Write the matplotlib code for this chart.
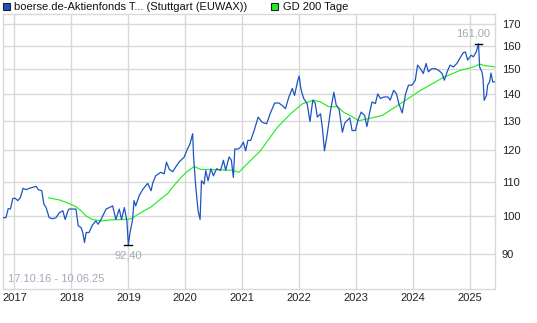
import matplotlib
matplotlib.use("Agg")
import matplotlib.pyplot as plt
from matplotlib.patches import Rectangle
import numpy as np

plt.rcParams['font.family'] = ['Liberation Sans', 'DejaVu Sans']

# Price series (decimal year, value)
price_t = [2016.79, 2016.85, 2016.89, 2016.93, 2016.97, 2017.01, 2017.06, 2017.105, 2017.15, 2017.205,
           2017.26, 2017.32, 2017.38, 2017.42, 2017.48, 2017.515, 2017.556, 2017.61, 2017.67, 2017.73,
           2017.79, 2017.85, 2017.89, 2017.94, 2017.96, 2018.08, 2018.12, 2018.17, 2018.20, 2018.23,
           2018.26, 2018.31, 2018.37, 2018.43, 2018.47, 2018.52, 2018.61, 2018.665, 2018.725, 2018.78,
           2018.84, 2018.88, 2018.93, 2018.975, 2019.0, 2019.03, 2019.075, 2019.10, 2019.13, 2019.19,
           2019.25, 2019.34, 2019.40, 2019.43, 2019.48, 2019.57, 2019.63, 2019.67, 2019.72, 2019.78,
           2019.83, 2019.89, 2019.95, 2019.98, 2020.04, 2020.08, 2020.13, 2020.145, 2020.185, 2020.225,
           2020.26, 2020.285, 2020.33, 2020.36, 2020.40, 2020.45, 2020.495, 2020.55, 2020.62, 2020.67,
           2020.71, 2020.77, 2020.81, 2020.845, 2020.87, 2020.93, 2020.97, 2021.02, 2021.06, 2021.10,
           2021.15, 2021.21, 2021.28, 2021.35, 2021.43, 2021.49, 2021.57, 2021.645, 2021.70, 2021.76,
           2021.82, 2021.88, 2021.92, 2021.97, 2022.0, 2022.03, 2022.055, 2022.08, 2022.10, 2022.14,
           2022.19, 2022.24, 2022.28, 2022.32, 2022.375, 2022.41, 2022.42, 2022.445, 2022.49, 2022.55,
           2022.61, 2022.65, 2022.70, 2022.76, 2022.80, 2022.84, 2022.89, 2022.93, 2022.99, 2023.03,
           2023.09, 2023.15, 2023.19, 2023.24, 2023.28, 2023.34, 2023.38, 2023.43, 2023.49, 2023.56,
           2023.60, 2023.66, 2023.71, 2023.75, 2023.81, 2023.87, 2023.92, 2023.98, 2024.04, 2024.08,
           2024.13, 2024.18, 2024.23, 2024.27, 2024.33, 2024.39, 2024.45, 2024.51, 2024.55, 2024.60,
           2024.65, 2024.71, 2024.77, 2024.82, 2024.88, 2024.92, 2024.96, 2025.02, 2025.06, 2025.11,
           2025.15, 2025.17, 2025.21, 2025.23, 2025.25, 2025.29, 2025.31, 2025.345, 2025.37, 2025.40,
           2025.44]
price_v = [99.6, 99.6, 102.1, 102.0, 105.0, 105.1, 104.4, 105.3, 108.0, 107.6,
           108.0, 108.3, 108.6, 107.6, 107.3, 103.5, 102.4, 99.6, 99.3, 99.6,
           101.0, 101.5, 99.1, 101.5, 102.0, 102.0, 97.4, 96.9, 95.6, 93.0,
           95.6, 95.6, 97.6, 98.7, 97.8, 99.1, 102.0, 102.4, 102.9, 99.1,
           102.0, 99.1, 102.4, 98.7, 92.4, 95.6, 99.1, 104.4, 102.9, 105.8,
           107.6, 109.5, 107.3, 109.7, 111.8, 112.9, 112.4, 116.1, 113.8, 113.1,
           114.5, 116.1, 117.2, 117.7, 120.5, 121.9, 125.6, 118.2, 108.3, 101.5,
           99.1, 110.3, 109.3, 113.4, 110.3, 114.0, 111.8, 114.0, 113.5, 116.7,
           113.5, 117.8, 116.7, 111.3, 120.4, 120.4, 121.0, 122.7, 119.8, 123.3,
           123.3, 126.7, 131.5, 129.6, 129.1, 132.7, 136.7, 136.7, 135.8, 134.6,
           139.0, 142.3, 139.6, 144.9, 147.3, 142.3, 140.2, 138.4, 137.8, 136.5,
           129.9, 137.8, 136.8, 131.5, 132.7, 127.4, 125.0, 119.8, 125.0, 133.7,
           140.8, 136.0, 134.5, 126.1, 129.3, 130.2, 131.2, 126.7, 126.7, 130.2,
           133.3, 132.1, 128.1, 133.3, 137.1, 136.5, 140.2, 138.4, 139.0, 139.0,
           137.8, 141.6, 140.2, 136.5, 133.0, 140.2, 143.6, 143.6, 145.6, 151.8,
           150.3, 148.3, 152.5, 149.0, 150.3, 150.3, 149.6, 148.3, 145.6, 149.0,
           151.8, 151.0, 152.5, 154.6, 157.0, 157.4, 153.9, 156.0, 155.3, 157.4,
           161.0, 151.0, 149.0, 146.3, 137.7, 139.6, 143.6, 144.9, 148.5, 144.9,
           144.9]

# 200-day moving average
ma_t = [2017.60, 2017.79, 2017.94, 2018.08, 2018.17, 2018.26, 2018.37, 2018.52, 2018.695, 2018.93,
        2019.05, 2019.22, 2019.40, 2019.57, 2019.69, 2019.75, 2019.92, 2020.03, 2020.155, 2020.27,
        2020.565, 2020.83, 2020.94, 2021.09, 2021.32, 2021.62, 2021.85, 2022.055, 2022.26, 2022.375,
        2022.52, 2022.67, 2022.78, 2022.89, 2023.05, 2023.19, 2023.46, 2023.78, 2024.13, 2024.54,
        2024.83, 2025.06, 2025.17, 2025.26, 2025.44]
ma_v = [105.2, 104.6, 103.7, 102.7, 101.5, 100.0, 99.1, 98.7, 99.0, 99.1,
        99.3, 101.0, 102.6, 104.9, 106.4, 107.8, 111.2, 113.1, 114.7, 113.8,
        113.7, 113.5, 112.9, 115.6, 119.8, 127.9, 132.7, 136.4, 137.8, 137.1,
        135.3, 135.3, 133.3, 132.1, 130.2, 130.8, 132.1, 136.5, 141.5, 146.8,
        149.6, 151.0, 152.2, 151.6, 151.0]

years = [2017, 2018, 2019, 2020, 2021, 2022, 2023, 2024, 2025]
y_ticks = [90, 100, 110, 120, 130, 140, 150, 160, 170]
series_label = "boerse.de-Aktienfonds T... (Stuttgart (EUWAX))"
ma_label = "GD 200 Tage"
date_range = "17.10.16 - 10.06.25"
x_start, x_end = 2016.79, 2025.44

W, H = 537, 323
fig = plt.figure(figsize=(W / 100, H / 100), dpi=100)
ax = fig.add_axes([2.5 / W, 1 - 288.5 / H, (495 - 2.5) / W, (288.5 - 14) / H])

grid_c = '#d9d9d9'
ax.set_yscale('log')
ax.set_ylim(81.9, 174.8)
ax.set_xlim(x_start, x_end)
ax.set_yticks(y_ticks)
ax.set_yticklabels([str(v) for v in y_ticks])
ax.yaxis.set_minor_locator(matplotlib.ticker.NullLocator())
ax.set_xticks(years)
ax.set_xticklabels([str(y) for y in years])
ax.yaxis.tick_right()
ax.tick_params(axis='both', length=0, labelsize=8, colors='#222222')
ax.tick_params(axis='y', pad=5)
ax.tick_params(axis='x', pad=3)
ax.grid(True, color=grid_c, linewidth=1)
for s in ax.spines.values():
    s.set_color(grid_c)
    s.set_linewidth(1)

ax.plot(ma_t, ma_v, color='#22ee22', linewidth=0.85, zorder=3)
ax.plot(price_t, price_v, color='#1c55c0', linewidth=0.9, zorder=4)

# max / min markers
imax = int(np.argmax(price_v))
imin = int(np.argmin(price_v))
ann_c = '#a3aabb'
for i, off, va in [(imax, 4, 'bottom'), (imin, -4, 'top')]:
    ax.plot([price_t[i] - 0.07, price_t[i] + 0.07], [price_v[i], price_v[i]], color='black', lw=1.0, zorder=5)
    ax.annotate(f"{price_v[i]:.2f}".replace('.', ','), (price_t[i], price_v[i]), xytext=(-4 if i == imax else 0, off),
                textcoords='offset points', ha='center', va=va, fontsize=8, color=ann_c)

ax.text(0.011, 0.016, date_range, transform=ax.transAxes, fontsize=8, color=ann_c, ha='left', va='bottom')

# legend
fig.patches.append(Rectangle((3 / W, 1 - 10 / H), 7 / W, 7 / H, transform=fig.transFigure,
                             facecolor='#1c55c0', edgecolor='#222222', lw=0.8))
fig.text(14 / W, 1 - 6.5 / H, series_label, fontsize=8, va='center', ha='left', color='#111111')
fig.patches.append(Rectangle((271 / W, 1 - 10 / H), 7 / W, 7 / H, transform=fig.transFigure,
                             facecolor='#22ee22', edgecolor='#222222', lw=0.8))
fig.text(283 / W, 1 - 6.5 / H, ma_label, fontsize=8, va='center', ha='left', color='#111111')

fig.savefig('out.png', dpi=100)
